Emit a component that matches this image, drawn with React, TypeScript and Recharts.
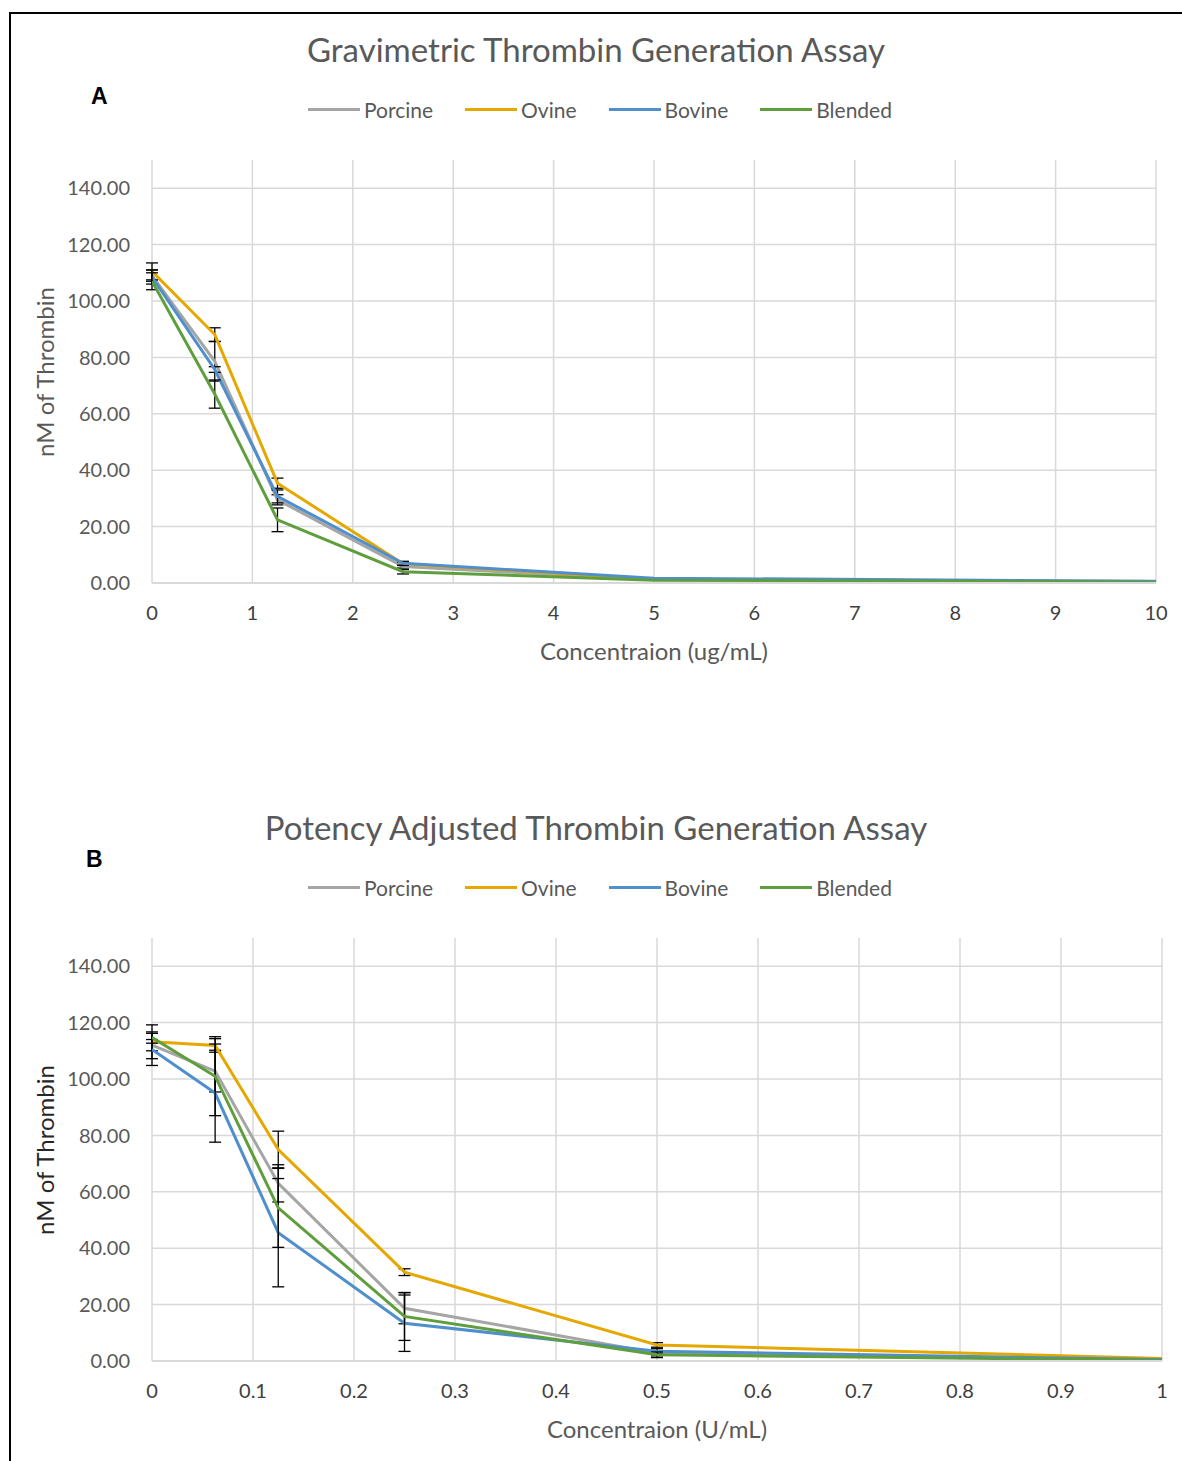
import { LineChart, Line, XAxis, YAxis, CartesianGrid, Legend, ErrorBar, ReferenceLine } from 'recharts';

// concentrations (dilution series)
const concA = [0, 0.625, 1.25, 2.5, 5, 10];
const concB = [0, 0.0625, 0.125, 0.25, 0.5, 1];

const ticksA = [0, 1, 2, 3, 4, 5, 6, 7, 8, 9, 10];
const ticksB = [0, 0.1, 0.2, 0.3, 0.4, 0.5, 0.6, 0.7, 0.8, 0.9, 1];
const yTicks = [0, 20, 40, 60, 80, 100, 120, 140];

// panel A - gravimetric
const porcineA = [109, 78.6, 29.5, 5.8, 1.2, 0.4];
const ovineA = [110.5, 88.1, 35.4, 6.8, 1.3, 0.5];
const bovineA = [108.5, 75.7, 30.7, 7.0, 1.7, 0.6];
const blendedA = [107, 67, 22.4, 4.0, 1.0, 0.3];
const porcineAErr = [2, 7, 1.8, 0.5, null, null];
const ovineAErr = [3, 2.4, 1.8, 0.6, null, null];
const bovineAErr = [2.5, 1, 2.3, 0.7, null, null];
const blendedAErr = [3, 5, 4.2, 0.8, null, null];

// panel B - potency adjusted
const porcineB = [112, 102.8, 63, 18.7, 2.8, 0.4];
const ovineB = [113.2, 111.9, 75, 31.5, 5.7, 0.9];
const bovineB = [110.5, 95, 45.5, 13.4, 3.5, 0.5];
const blendedB = [114.7, 101, 54.3, 15.8, 2.2, 0.3];
const porcineBErr = [2, 7.4, 6.6, 5.5, 1, null];
const ovineBErr = [6, 2.4, 6.5, 1.2, 0.8, null];
const bovineBErr = [5.7, 17.4, 19.2, 10, 1, null];
const blendedBErr = [2, 14, 14, 8.5, 1, null];

const series = [
  { key: 'porcine', name: 'Porcine', color: '#a5a5a5' },
  { key: 'ovine', name: 'Ovine', color: '#e5a800' },
  { key: 'bovine', name: 'Bovine', color: '#4f8fcc' },
  { key: 'blended', name: 'Blended', color: '#5f9e3c' },
];

const buildRows = (conc: number[], vals: number[][], errs: (number | null)[][]) =>
  conc.map((x, i) => ({
    x,
    porcine: vals[0][i], ovine: vals[1][i], bovine: vals[2][i], blended: vals[3][i],
    porcineErr: errs[0][i], ovineErr: errs[1][i], bovineErr: errs[2][i], blendedErr: errs[3][i],
  }));

const dataA = buildRows(concA, [porcineA, ovineA, bovineA, blendedA], [porcineAErr, ovineAErr, bovineAErr, blendedAErr]);
const dataB = buildRows(concB, [porcineB, ovineB, bovineB, blendedB], [porcineBErr, ovineBErr, bovineBErr, blendedBErr]);

const FONT = 'Lato, "Open Sans", sans-serif';

const LegendContent = () => (
  <div style={{ display: 'flex', justifyContent: 'center', gap: 32, fontFamily: FONT, fontSize: 21, color: '#595959', paddingLeft: 18 }}>
    {series.map(s => (
      <div key={s.key} style={{ display: 'flex', alignItems: 'center' }}>
        <span style={{ display: 'inline-block', width: 52, height: 3, background: s.color, marginRight: 4 }} />
        <span>{s.name}</span>
      </div>
    ))}
  </div>
);

interface PanelProps {
  top: number;
  data: any[];
  ticks: number[];
  domainMax: number;
  rightMargin: number;
  title: string;
  letter: string;
  letterPos: { x: number; y: number };
  xTitle: string;
  xTitleCenter: number;
  yLabelColor: string;
}

const Panel = ({ top, data, ticks, domainMax, rightMargin, title, letter, letterPos, xTitle, xTitleCenter, yLabelColor }: PanelProps) => (
  <div style={{ position: 'absolute', left: 0, top, width: 1182, height: 700 }}>
    <div style={{ position: 'absolute', left: 0, width: 1192, top: 29, textAlign: 'center', fontFamily: FONT, fontSize: 33, color: '#595959', whiteSpace: 'nowrap' }}>
      {title}
    </div>
    <div style={{ position: 'absolute', left: letterPos.x, top: letterPos.y, fontFamily: 'Liberation Sans, Arial, sans-serif', fontWeight: 700, fontSize: 23, color: '#000' }}>
      {letter}
    </div>
    <div style={{ position: 'absolute', left: 44, top: 372, width: 0, height: 0 }}>
      <div style={{ position: 'absolute', transform: 'translate(-50%, -50%) rotate(-90deg)', fontFamily: FONT, fontSize: 24, color: yLabelColor, whiteSpace: 'nowrap' }}>
        nM of Thrombin
      </div>
    </div>
    <div style={{ position: 'absolute', left: xTitleCenter - 200, width: 400, top: 636, textAlign: 'center', fontFamily: FONT, fontSize: 24, color: '#595959' }}>
      {xTitle}
    </div>
    <LineChart width={1182} height={700} data={data} margin={{ top: 160, right: rightMargin, left: 52, bottom: 87 }}>
      <CartesianGrid stroke="#d9d9d9" strokeWidth={1.5} horizontal={false} />
      {yTicks.map(t => (
        <ReferenceLine key={t} y={t} stroke="#d9d9d9" strokeWidth={1.5} />
      ))}
      <XAxis
        dataKey="x"
        type="number"
        domain={[0, domainMax]}
        ticks={ticks}
        tickFormatter={(v: number) => String(v)}
        axisLine={{ stroke: '#d9d9d9', strokeWidth: 2 }}
        tickLine={false}
        tickSize={0}
        tickMargin={23}
        height={30}
        tick={{ fontFamily: FONT, fontSize: 20, fill: '#404040' }}
        allowDataOverflow
      />
      <YAxis
        type="number"
        domain={[0, 150]}
        ticks={yTicks}
        tickFormatter={(v: number) => v.toFixed(2)}
        axisLine={false}
        tickLine={false}
        tickSize={0}
        tickMargin={22}
        width={100}
        tick={{ fontFamily: FONT, fontSize: 20, fill: '#595959' }}
      />
      <Legend verticalAlign="middle" align="center" content={<LegendContent />} wrapperStyle={{ top: 97, left: 0, width: 1182 }} />
      {series.map(s => (
        <Line
          key={s.key}
          type="linear"
          dataKey={s.key}
          name={s.name}
          stroke={s.color}
          strokeWidth={3}
          dot={false}
          activeDot={false}
          isAnimationActive={false}
        >
          <ErrorBar dataKey={`${s.key}Err`} direction="y" stroke="#000" strokeWidth={1.3} width={6} isAnimationActive={false} />
        </Line>
      ))}
    </LineChart>
  </div>
);

export default function App() {
  return (
    <div style={{ position: 'absolute', left: 0, top: 0, width: 1182, height: 1461, overflow: 'hidden', background: '#fff' }}>
      <div style={{ position: 'absolute', left: 9, top: 12, width: 1300, height: 1600, borderTop: '2px solid #000', borderLeft: '2px solid #000' }} />
      <Panel
        top={0}
        data={dataA}
        ticks={ticksA}
        domainMax={10}
        rightMargin={26}
        title="Gravimetric Thrombin Generation Assay"
        letter="A"
        letterPos={{ x: 91, y: 83 }}
        xTitle="Concentraion (ug/mL)"
        xTitleCenter={654}
        yLabelColor="#595959"
      />
      <Panel
        top={778}
        data={dataB}
        ticks={ticksB}
        domainMax={1}
        rightMargin={20}
        title="Potency Adjusted Thrombin Generation Assay"
        letter="B"
        letterPos={{ x: 86, y: 68 }}
        xTitle="Concentraion (U/mL)"
        xTitleCenter={657}
        yLabelColor="#262626"
      />
    </div>
  );
}
